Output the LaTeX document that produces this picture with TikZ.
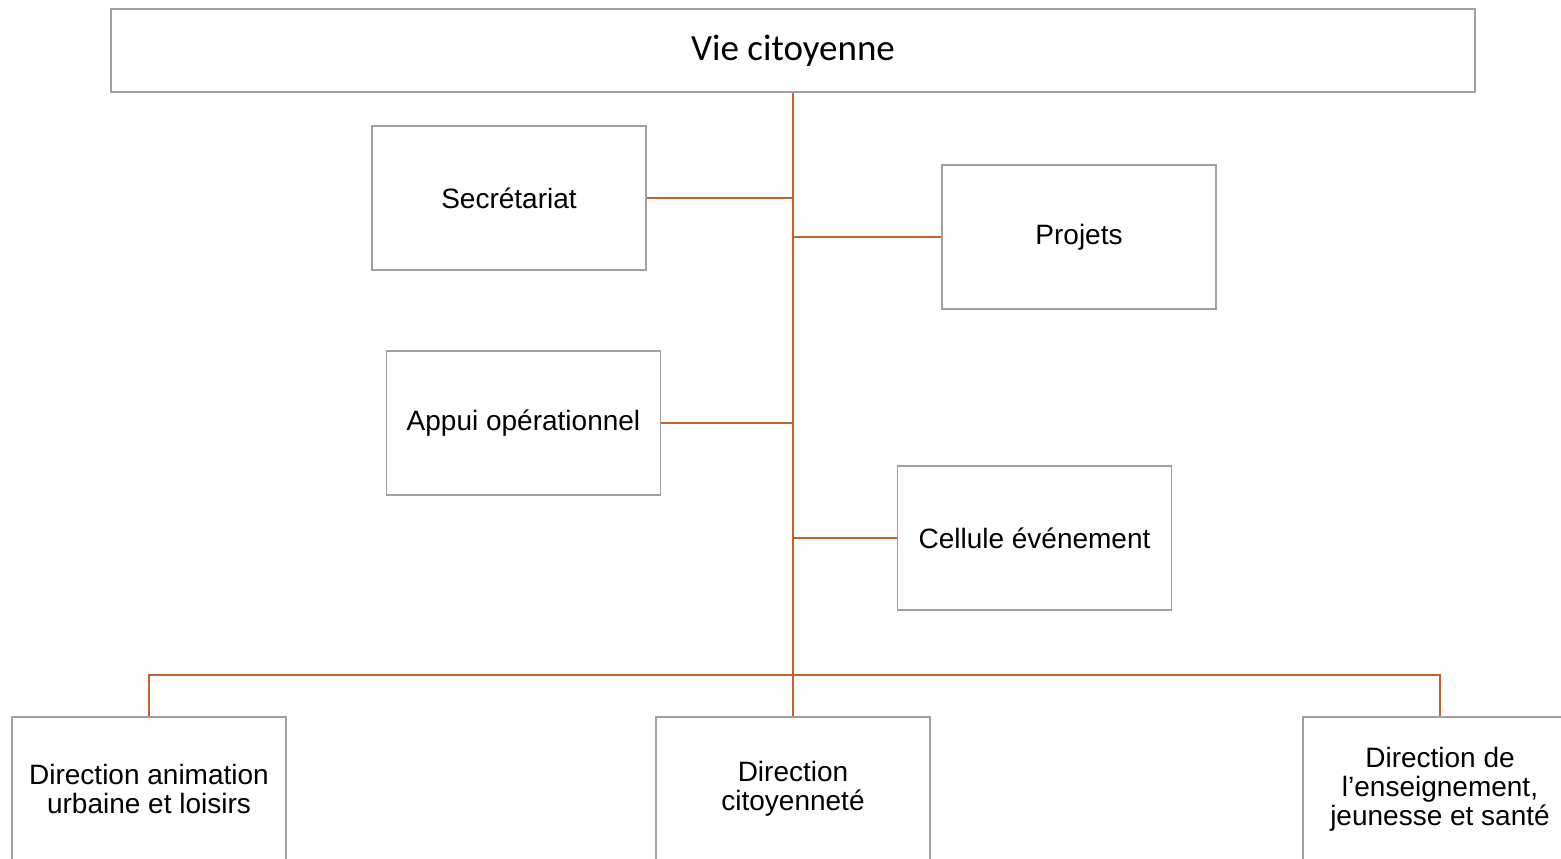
\documentclass[tikz,border=0pt]{standalone}
\usepackage{fontspec}
\setmainfont{Liberation Sans}
\newfontfamily\titlefont{Carlito}
\definecolor{linkorange}{RGB}{197,98,42}
\definecolor{boxgray}{RGB}{160,160,160}
\tikzset{
	unitbox/.style={draw=boxgray, line width=0.6pt, fill=white, minimum width=137pt, minimum height=72pt, inner sep=0pt, align=center, font=\fontsize{14}{14.5}\selectfont},
	link/.style={draw=linkorange, line width=1pt}
}
\begin{document}
\begin{tikzpicture}[x=0.5pt, y=-0.5pt]
		\clip (0, 0) rectangle (1561, 858);
		\fill[white] (0, 0) rectangle (1561, 858);
		\node[draw=boxgray, line width=0.6pt, minimum width=682pt, minimum height=41.5pt, inner sep=0pt, font=\titlefont\fontsize{18.5}{20}\selectfont] (vie) at (793, 50.5) {Vie citoyenne};
		\node[unitbox] (secr) at (509, 198) {Secrétariat};
		\node[unitbox] (proj) at (1079, 237) {Projets};
		\node[unitbox] (appui) at (523.5, 423) {Appui opérationnel};
		\node[unitbox] (cell) at (1034.5, 538) {Cellule événement};
		\node[unitbox] (dirA) at (149, 789) {Direction animation\\urbaine et loisirs};
		\node[unitbox] (dirC) at (793, 789) {Direction\\citoyenneté};
		\node[unitbox] (dirE) at (1440, 789) {Direction de\\l’enseignement,\\jeunesse et santé};
		\coordinate (bus) at (793, 675);
		% trunk and side branches
		\draw[link] (vie.south) -- (bus);
		\draw[link] (secr.east) -- (secr.east -| bus);
		\draw[link] (proj.west) -- (proj.west -| bus);
		\draw[link] (appui.east) -- (appui.east -| bus);
		\draw[link] (cell.west) -- (cell.west -| bus);
		% directions
		\draw[link] (dirA.north) -- (dirA.north |- bus) -- (dirE.north |- bus) -- (dirE.north);
		\draw[link] (bus) -- (dirC.north);
	\end{tikzpicture}
\end{document}
